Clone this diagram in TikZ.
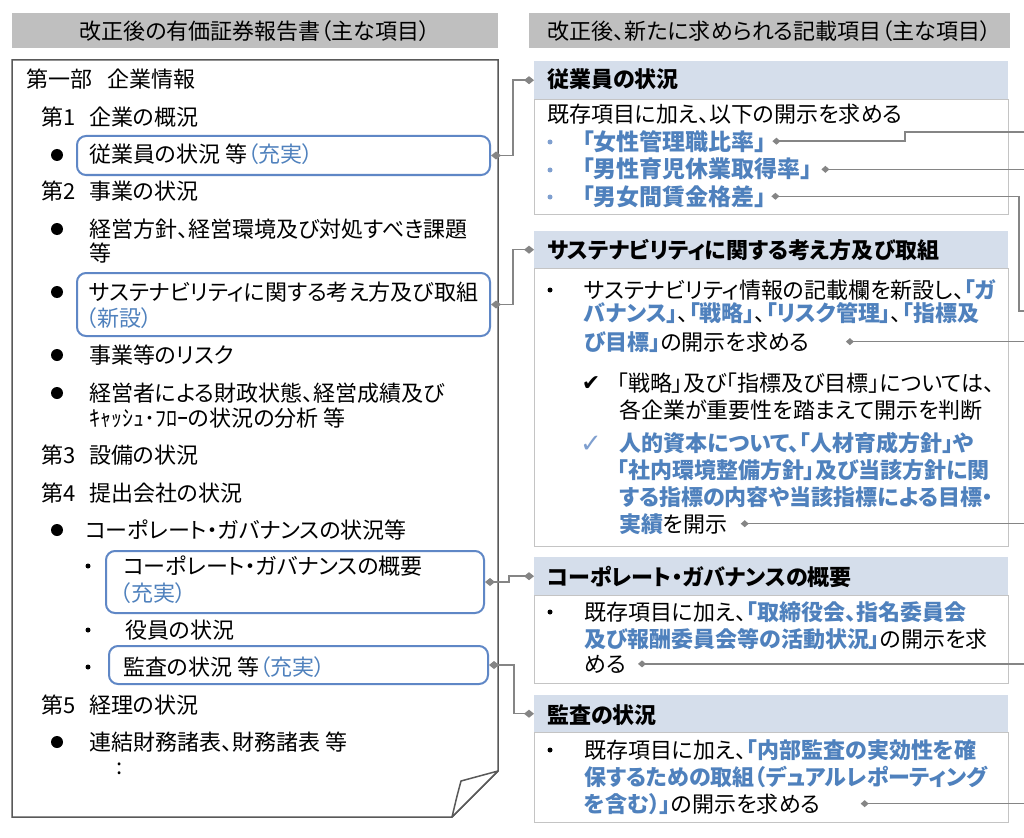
\documentclass[tikz,border=0pt]{standalone}
\usepackage{fontspec}
\setmainfont{Noto Sans CJK JP}[RawFeature=+palt]
\newfontfamily\symfont{DejaVu Sans}
\usetikzlibrary{arrows.meta,calc}
\definecolor{hdrgray}{HTML}{BFBFBF}
\definecolor{bandblue}{HTML}{D5DEEB}
\definecolor{txtblue}{HTML}{4F81BD}
\definecolor{lightblue}{HTML}{7F9FCF}
\definecolor{boxblue}{HTML}{5F87C6}
\definecolor{lngray}{HTML}{858585}
\definecolor{docgray}{HTML}{595959}
\definecolor{bodygray}{HTML}{C4C4C4}
\newcommand{\bb}[1]{{\bfseries\color{txtblue}#1}}
\newcommand{\bl}[1]{{\color{txtblue}#1}}
\newcommand{\bigfs}{\fontsize{23}{27}\selectfont}
\begin{document}
\begin{tikzpicture}[x=1pt,y=-1pt,
  every node/.style={font=\fontsize{22}{26}\selectfont},
  tx/.style={anchor=base west, inner sep=0pt},
  hdr/.style={fill=hdrgray, anchor=north west, inner sep=0pt, minimum height=35pt},
  band/.style={fill=bandblue, anchor=north west, inner sep=0pt, minimum width=474pt},
  bodybox/.style={draw=bodygray, line width=1pt, fill=white, anchor=north west, inner sep=0pt, minimum width=474pt},
  lbox/.style={draw=boxblue, line width=2pt, rounded corners=9pt, anchor=north west, inner sep=0pt},
  docline/.style={draw=docgray, line width=1.5pt},
  conn/.style={draw=lngray, line width=1.5pt, arrows={Diamond[length=10pt,width=8pt,fill=lngray]-Diamond[length=10pt,width=8pt,fill=lngray]}},
  xconn/.style={draw=lngray, line width=1.5pt, arrows={Diamond[length=8pt,width=7pt,fill=lngray]-}},
  ck/.style={anchor=center, inner sep=0pt}
]
\useasboundingbox (0,0) rectangle (1024,837);
\clip (0,0) rectangle (1024,837);
\fill[white] (0,0) rectangle (1024,837);

% ---------- headers ----------
\node[hdr, minimum width=486pt] (hl) at (12,13) {};
\node (htl) at (255,31) {改正後の有価証券報告書（主な項目）};
\node[hdr, minimum width=481pt] (hr) at (529,13) {};
\node (htr) at (769.5,31) {改正後、新たに求められる記載項目（主な項目）};

% ---------- left document ----------
\draw[docline, fill=white] (12,60) -- (498,60) -- (498,771) -- (452,817) -- (12,817) -- cycle;
\draw[docline, fill=white, line join=round] (498,771) -- (461,781) .. controls (457,796) .. (452,817) -- cycle;

\node[tx] (p1) at (26,88) {\makebox[81pt][l]{第一部}企業情報};
\node[tx] (p2) at (41,126) {\makebox[48pt][l]{第1}企業の概況};
\node[lbox, minimum width=413pt, minimum height=39pt] (lb1) at (76,135) {};
\fill (57,155) circle (6);
\node[tx] (p3) at (89,163) {従業員の状況 等\bl{（充実）}};
\node[tx] (p4) at (41,199) {\makebox[48pt][l]{第2}事業の状況};
\fill (57,229) circle (6);
\node[tx] (p5) at (89,237) {経営方針、経営環境及び対処すべき課題};
\node[tx] (p6) at (89,261) {等};
\node[lbox, minimum width=413pt, minimum height=63pt] (lb2) at (76,272) {};
\fill (57,292) circle (6);
\node[tx] (p7) at (89,300) {サステナビリティに関する考え方及び取組};
\node[tx] (p8) at (86,326) {\bl{（新設）}};
\fill (57,355) circle (6);
\node[tx] (p9) at (89,363) {事業等のリスク};
\fill (57,393) circle (6);
\node[tx] (p10) at (89,401) {経営者による財政状態、経営成績及び};
\node[tx] (p11) at (89,426) {ｷｬｯｼｭ･ﾌﾛｰの状況の分析 等};
\node[tx] (p12) at (41,463) {\makebox[48pt][l]{第3}設備の状況};
\node[tx] (p13) at (41,501) {\makebox[48pt][l]{第4}提出会社の状況};
\fill (57,530) circle (6);
\node[tx] (p14) at (85,538) {コーポレート・ガバナンスの状況等};
\node[lbox, minimum width=378pt, minimum height=62pt] (lb3) at (105,550) {};
\fill (88,566) circle (2.5);
\node[tx] (p15) at (123,574) {コーポレート・ガバナンスの概要};
\node[tx] (p16) at (120,601) {\bl{（充実）}};
\fill (88,630) circle (2.5);
\node[tx] (p17) at (125,638) {役員の状況};
\node[lbox, minimum width=379pt, minimum height=38pt] (lb4) at (108,645) {};
\fill (88,667) circle (2.5);
\node[tx] (p18) at (123,675) {監査の状況 等\bl{（充実）}};
\node[tx] (p19) at (41,713) {\makebox[48pt][l]{第5}経理の状況};
\fill (57,742) circle (6);
\node[tx] (p20) at (89,750) {連結財務諸表、財務諸表 等};
\node[anchor=center, inner sep=0pt] (p21) at (120,769) {:};

% ---------- right: section 1 ----------
\node[band, minimum height=38pt] (h1) at (534,61) {};
\node[tx] (h1t) at (547,88) {\bfseries 従業員の状況};
\node[bodybox, minimum height=115pt] (b1) at (534,99) {};
\node[tx] (s1) at (547,123) {既存項目に加え、以下の開示を求める};
\fill[lightblue] (550,142) circle (2.5);
\fill[lightblue] (550,170) circle (2.5);
\fill[lightblue] (550,197) circle (2.5);
\node[tx] (s2) at (582,150) {\bigfs\bb{「女性管理職比率」}};
\node[tx] (s3) at (582,178) {\bigfs\bb{「男性育児休業取得率」}};
\node[tx] (s4) at (582,205) {\bigfs\bb{「男女間賃金格差」}};

% ---------- right: section 2 ----------
\node[band, minimum height=37pt] (h2) at (534,231) {};
\node[tx] (h2t) at (547,258) {\bfseries サステナビリティに関する考え方及び取組};
\node[bodybox, minimum height=278pt] (b2) at (534,268) {};
\fill (550,290) circle (2.5);
\node[tx] (s5) at (584,298) {サステナビリティ情報の記載欄を新設し、\bb{「ガ}};
\node[tx] (s6) at (584,321) {\bb{バナンス」}、\bb{「戦略」}、\bb{「リスク管理」}、\bb{「指標及}};
\node[tx] (s7) at (584,350) {\bb{び目標」}の開示を求める};
\node[ck] (ck1) at (591,384) {\symfont\fontsize{22}{22}\selectfont ✔};
\node[tx] (s8) at (617,391) {「戦略」及び「指標及び目標」については、};
\node[tx] (s9) at (619,418) {各企業が重要性を踏まえて開示を判断};
\node[ck, text=lightblue] (ck2) at (591,444) {\symfont\fontsize{26}{26}\selectfont ✓};
\node[tx] (s10) at (619,451) {\bb{人的資本について、「人材育成方針」や}};
\node[tx] (s11) at (617,478) {\bb{「社内環境整備方針」及び当該方針に関}};
\node[tx] (s12) at (619,505) {\bb{する指標の内容や当該指標による目標・}};
\node[tx] (s13) at (619,532) {\bb{実績}を開示};

% ---------- right: section 3 ----------
\node[band, minimum height=38pt] (h3) at (534,557) {};
\node[tx] (h3t) at (547,585) {\bfseries コーポレート・ガバナンスの概要};
\node[bodybox, minimum height=88pt] (b3) at (534,595) {};
\fill (550,612) circle (2.5);
\node[tx] (s14) at (584,620) {既存項目に加え、\bb{「取締役会、指名委員会}};
\node[tx] (s15) at (584,647) {\bb{及び報酬委員会等の活動状況」}の開示を求};
\node[tx] (s16) at (584,672) {める};

% ---------- right: section 4 ----------
\node[band, minimum height=37pt] (h4) at (534,695) {};
\node[tx] (h4t) at (547,723) {\bfseries 監査の状況};
\node[bodybox, minimum height=90pt] (b4) at (534,732) {};
\fill (550,750) circle (2.5);
\node[tx] (s17) at (584,758) {既存項目に加え、\bb{「内部監査の実効性を確}};
\node[tx] (s18) at (584,785) {\bb{保するための取組（デュアルレポーティング}};
\node[tx] (s19) at (584,812) {\bb{を含む）」}の開示を求める};

% ---------- connectors left -> right ----------
\draw[conn] (lb1.east) -- ++(22,0) |- (h1.west);
\draw[conn] (lb2.east) -- ++(22,0) |- (h2.west);
\draw[conn] (lb3.east) -- ++(24,0) |- (h3.west);
\draw[conn] (lb4.east) -- ++(25,0) |- (h4.west);

% ---------- connectors leaving to the right ----------
\coordinate (ex) at (1034,0);
\coordinate (j1) at (905,132);
\coordinate (e1) at (1034,132);
\coordinate (j3) at (1019,311);
\coordinate (e3) at (1034,311);
\draw[xconn] ([xshift=6pt]s2.east) -| (j1) -- (e1);
\draw[xconn] ([xshift=9pt]s3.east) -- ([xshift=9pt]s3.east -| ex);
\draw[xconn] ([xshift=5pt]s4.east) -| (j3) -- (e3);
\draw[xconn] ([xshift=36pt]s7.east) -- ([xshift=36pt]s7.east -| ex);
\draw[xconn] ([xshift=13pt]s13.east) -- ([xshift=13pt]s13.east -| ex);
\draw[xconn] ([xshift=12pt]s16.east) -- ([xshift=12pt]s16.east -| ex);
\draw[xconn] ([xshift=40pt]s19.east) -- ([xshift=40pt]s19.east -| ex);
\end{tikzpicture}
\end{document}
